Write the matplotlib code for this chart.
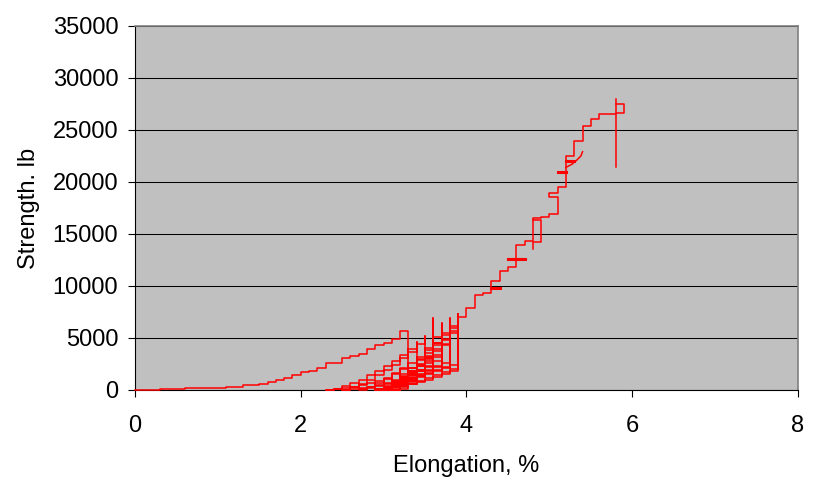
import numpy as np
import matplotlib.pyplot as plt

plt.rcParams['font.family'] = ['Liberation Sans', 'DejaVu Sans']

# initial loading (elongation %, strength lb)
load_x = [0, 0.3, 0.6, 0.9, 1.1, 1.3, 1.5, 1.6, 1.7, 1.8, 1.9, 2.0, 2.1, 2.2,
          2.3, 2.4, 2.5, 2.6, 2.7, 2.8, 2.9, 3.0, 3.1, 3.2, 3.3]
load_y = [0, 80, 150, 220, 330, 480, 620, 740, 960, 1150, 1440, 1700, 1860, 2080,
          2560, 2630, 3040, 3270, 3460, 3940, 4330, 4490, 4870, 5700, 5700]

# unload / reload cycles
un1_x = [3.3, 3.2, 3.1, 3.0, 2.9, 2.8, 2.7, 2.6, 2.5, 2.4, 2.3]
un1_y = [2100, 1600, 1200, 900, 650, 450, 300, 180, 90, 30, 0]

rel2_x = [2.3, 2.4, 2.5, 2.6, 2.7, 2.8, 2.9, 3.0, 3.1, 3.2, 3.3, 3.4]
rel2_y = [0, 120, 350, 650, 1000, 1400, 1850, 2300, 2800, 3350, 3950, 4600]
un2_x = [3.4, 3.3, 3.2, 3.1, 3.0, 2.9, 2.8, 2.7, 2.6, 2.5]
un2_y = [1600, 1250, 950, 700, 480, 300, 170, 80, 20, 0]

rel3_x = [2.5, 2.6, 2.7, 2.8, 2.9, 3.0, 3.1, 3.2, 3.3, 3.4, 3.5]
rel3_y = [0, 250, 550, 950, 1400, 1900, 2450, 3050, 3700, 4400, 5200]
un3_x = [3.5, 3.4, 3.3, 3.2, 3.1, 3.0, 2.9, 2.8, 2.7]
un3_y = [1900, 1500, 1150, 850, 600, 400, 230, 100, 0]

rel4_x = [2.7, 2.8, 2.9, 3.0, 3.1, 3.2, 3.3, 3.4, 3.5, 3.6, 3.7, 3.8, 3.9]
rel4_y = [0, 300, 650, 1050, 1500, 2000, 2550, 3150, 3800, 4500, 5300, 6200, 7300]
un4_x = [3.9, 3.8, 3.7, 3.6, 3.5, 3.4, 3.3, 3.2, 3.1, 3.0, 2.9]
un4_y = [2400, 2100, 1800, 1500, 1250, 1000, 750, 500, 300, 100, 0]

rel5_x = [2.9, 3.0, 3.1, 3.2, 3.3, 3.4, 3.5, 3.6, 3.7]
rel5_y = [0, 400, 900, 1500, 2150, 2850, 3600, 4500, 6300]
un5_x = [3.7, 3.6, 3.5, 3.4, 3.3, 3.2, 3.1, 3.0]
un5_y = [2300, 1900, 1500, 1150, 800, 500, 200, 0]

rel6_x = [3.0, 3.1, 3.2, 3.3, 3.4, 3.5, 3.6, 3.7, 3.8]
rel6_y = [0, 450, 1000, 1650, 2350, 3100, 3950, 4900, 6700]
un6_x = [3.8, 3.7, 3.6, 3.5, 3.4, 3.3, 3.2, 3.1]
un6_y = [2600, 2200, 1800, 1400, 1000, 650, 300, 0]

rel7_x = [3.1, 3.2, 3.3, 3.4, 3.5, 3.6, 3.7, 3.8, 3.9]
rel7_y = [0, 500, 1100, 1800, 2550, 3400, 4350, 5500, 7200]
un7_x = [3.9, 3.8, 3.7, 3.6, 3.5, 3.4, 3.3, 3.2]
un7_y = [2000, 1700, 1450, 1200, 900, 600, 300, 100]

rel8_x = [3.2, 3.3, 3.4, 3.5, 3.6]
rel8_y = [100, 900, 1900, 3200, 6900]
un8_x = [3.6, 3.5, 3.4, 3.3, 3.2, 3.1, 3.0]
un8_y = [3000, 2400, 1800, 1200, 700, 300, 0]

rel9_x = [3.0, 3.1, 3.2, 3.3, 3.4, 3.5, 3.6, 3.7]
rel9_y = [0, 600, 1300, 2100, 3000, 4000, 5100, 6400]
un9_x = [3.7, 3.6, 3.5, 3.4, 3.3, 3.2, 3.1]
un9_y = [2800, 2300, 1800, 1300, 850, 400, 50]

rel10_x = [3.1, 3.2, 3.3, 3.4, 3.5, 3.6, 3.7, 3.8]
rel10_y = [50, 700, 1450, 2300, 3250, 4300, 5500, 6900]
un10_x = [3.8, 3.7, 3.6, 3.5, 3.4, 3.3, 3.2, 3.1]
un10_y = [2200, 1900, 1600, 1300, 950, 600, 250, 0]

rel11_x = [3.1, 3.2, 3.3, 3.4, 3.5, 3.6, 3.7, 3.8, 3.9]
rel11_y = [0, 550, 1200, 1950, 2800, 3750, 4800, 5950, 7300]
un11_x = [3.9, 3.8, 3.7, 3.6, 3.5, 3.4, 3.3, 3.2, 3.1, 3.0, 2.9]
un11_y = [1800, 1500, 1250, 1000, 800, 600, 450, 300, 150, 50, 0]

rel13_x = [2.9, 3.0, 3.1, 3.2, 3.3, 3.4, 3.5]
rel13_y = [0, 300, 700, 1200, 1800, 2500, 3400]
un13_x = [3.5, 3.4, 3.3, 3.2, 3.1, 3.0]
un13_y = [1400, 1100, 800, 500, 200, 0]

rel14_x = [3.0, 3.1, 3.2, 3.3, 3.4]
rel14_y = [0, 450, 1000, 1650, 2600]
un14_x = [3.4, 3.3, 3.2, 3.1]
un14_y = [1200, 800, 400, 0]

rel12_x = [3.1, 3.2, 3.3, 3.4, 3.5, 3.6, 3.7, 3.8, 3.9]
rel12_y = [0, 350, 800, 1400, 2200, 3200, 4400, 5700, 7000]

# final loading to break
fin_x = [4.0, 4.1, 4.2, 4.3, 4.4, 4.5, 4.6, 4.7, 4.8, 4.9, 5.0, 5.1, 5.0, 5.1,
         5.2, 5.3, 5.4, 5.5, 5.6, 5.8, 5.9, 5.8]
fin_y = [7850, 9130, 9360, 10510, 11440, 11860, 13940, 14360, 16500, 16660, 16920,
         18590, 18900, 19500, 22500, 23970, 25380, 26030, 26540, 26660, 27500, 27500]

# small extras
loop_x = [4.8, 4.9, 4.9, 4.8, 4.8]
loop_y = [16300, 16300, 14200, 14200, 13600]
jog1_x = [4.3, 4.4]
jog1_y = [9840, 9840]
jog2_x = [4.5, 4.7]
jog2_y = [12600, 12600]
jog3_x = [5.1, 5.2]
jog3_y = [21000, 21000]
jog4_x = [5.2, 5.3]
jog4_y = [22000, 22000]
arc_x = [5.2, 5.27, 5.33, 5.38, 5.4]
arc_y = [21410, 21700, 22100, 22500, 22910]
spike_x = [5.8, 5.8]
spike_y = [27950, 21410]

parts_x = [load_x, un1_x, rel2_x, un2_x, rel3_x, un3_x, rel4_x, un4_x,
           rel5_x, un5_x, rel6_x, un6_x, rel7_x, un7_x, rel8_x, un8_x,
           rel9_x, un9_x, rel10_x, un10_x, rel11_x, un11_x,
           rel13_x, un13_x, rel14_x, un14_x, rel12_x, fin_x]
parts_y = [load_y, un1_y, rel2_y, un2_y, rel3_y, un3_y, rel4_y, un4_y,
           rel5_y, un5_y, rel6_y, un6_y, rel7_y, un7_y, rel8_y, un8_y,
           rel9_y, un9_y, rel10_y, un10_y, rel11_y, un11_y,
           rel13_y, un13_y, rel14_y, un14_y, rel12_y, fin_y]
main_x = np.concatenate(parts_x)
main_y = np.concatenate(parts_y)

fig = plt.figure(figsize=(8.15, 4.83), dpi=100)
ax = fig.add_axes([135 / 815, 1 - 390 / 483, 663 / 815, 364 / 483])
ax.set_facecolor('#C0C0C0')

red = '#FF0000'
ax.plot(main_x, main_y, color=red, lw=1.1, drawstyle='steps-post', zorder=3, clip_on=False)
ax.plot(loop_x, loop_y, color=red, lw=1.1, zorder=3)
for jx, jy in [(jog1_x, jog1_y), (jog2_x, jog2_y), (jog3_x, jog3_y), (jog4_x, jog4_y)]:
    ax.plot(jx, jy, color=red, lw=2.2, zorder=3)
ax.plot(arc_x, arc_y, color=red, lw=1.1, zorder=3)
ax.plot(spike_x, spike_y, color=red, lw=1.1, zorder=3)

ax.set_xlim(0, 8)
ax.set_ylim(0, 35000)
ax.set_xticks([0, 2, 4, 6, 8])
ax.set_yticks(range(0, 35001, 5000))
ax.yaxis.grid(True, color='black', lw=0.75)
ax.set_axisbelow(True)

for s in ['left', 'bottom']:
    ax.spines[s].set_color('black')
    ax.spines[s].set_linewidth(0.8)
for s in ['top', 'right']:
    ax.spines[s].set_color('#808080')
    ax.spines[s].set_linewidth(1.2)

ax.tick_params(direction='out', length=5, width=0.8, labelsize=17, color='black')
ax.tick_params(axis='x', pad=13)
ax.tick_params(axis='y', pad=7)

ax.set_xlabel('Elongation, %', fontsize=17, labelpad=13)
ax.set_ylabel('Strength. lb', fontsize=17, labelpad=9)

fig.savefig('out.png', dpi=100)
